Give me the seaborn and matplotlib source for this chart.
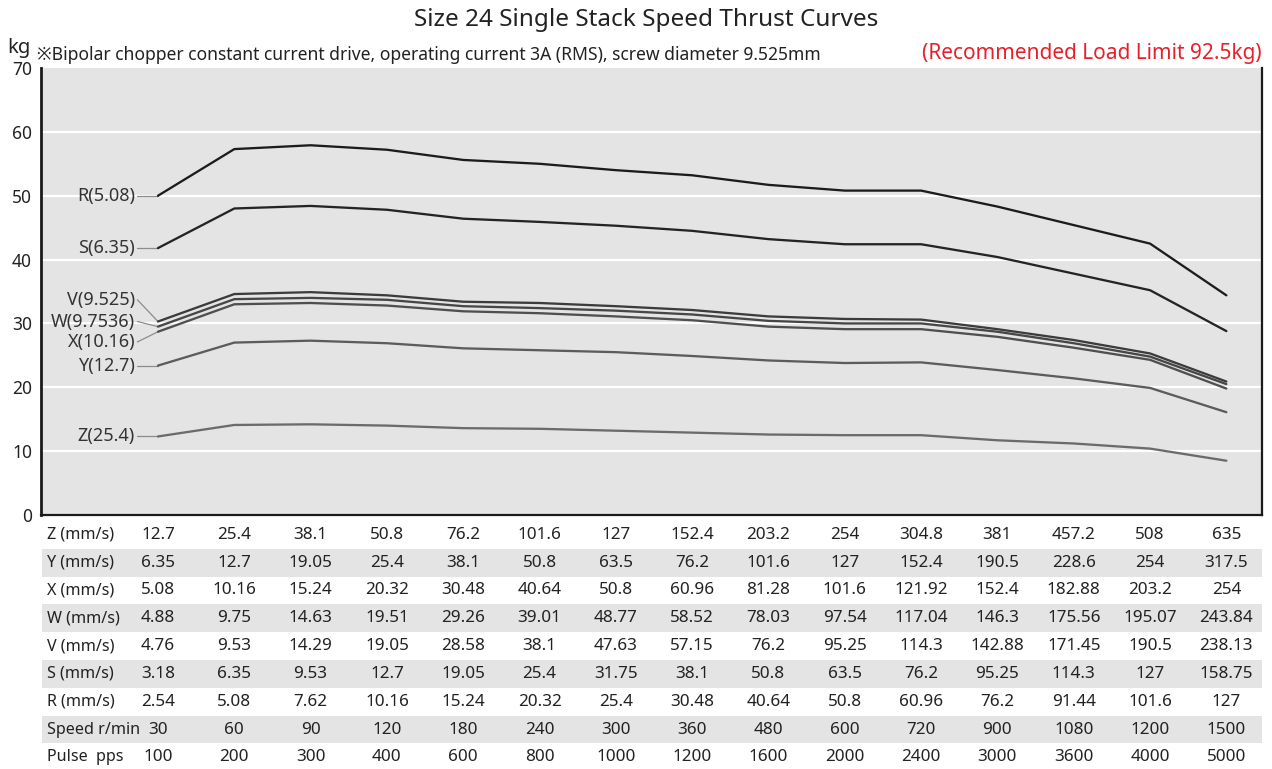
import matplotlib
matplotlib.use("Agg")
import matplotlib.pyplot as plt
import seaborn as sns
import pandas as pd
from matplotlib.patches import Rectangle

# Thrust (kg) at each speed step, one list per screw lead
thrust_R = [50.0, 57.3, 57.9, 57.2, 55.6, 55.0, 54.0, 53.2, 51.7, 50.8, 50.8, 48.3, 45.4, 42.5, 34.4]
thrust_S = [41.8, 48.0, 48.4, 47.8, 46.4, 45.9, 45.3, 44.5, 43.2, 42.4, 42.4, 40.4, 37.8, 35.2, 28.8]
thrust_V = [30.3, 34.6, 34.9, 34.4, 33.4, 33.2, 32.7, 32.1, 31.1, 30.7, 30.6, 29.1, 27.4, 25.3, 20.9]
thrust_W = [29.5, 33.8, 34.0, 33.7, 32.7, 32.4, 32.0, 31.4, 30.4, 30.0, 30.0, 28.7, 26.9, 24.8, 20.5]
thrust_X = [28.7, 33.0, 33.2, 32.8, 31.9, 31.6, 31.1, 30.5, 29.5, 29.1, 29.1, 27.9, 26.2, 24.3, 19.8]
thrust_Y = [23.4, 27.0, 27.3, 26.9, 26.1, 25.8, 25.5, 24.9, 24.2, 23.8, 23.9, 22.7, 21.4, 19.9, 16.1]
thrust_Z = [12.3, 14.1, 14.2, 14.0, 13.6, 13.5, 13.2, 12.9, 12.6, 12.5, 12.5, 11.7, 11.2, 10.4, 8.5]

series_names = ["R(5.08)", "S(6.35)", "V(9.525)", "W(9.7536)", "X(10.16)", "Y(12.7)", "Z(25.4)"]
series_values = [thrust_R, thrust_S, thrust_V, thrust_W, thrust_X, thrust_Y, thrust_Z]

# Speed table rows under the chart
row_labels = ["Z (mm/s)", "Y (mm/s)", "X (mm/s)", "W (mm/s)", "V (mm/s)",
              "S (mm/s)", "R (mm/s)", "Speed r/min", "Pulse  pps"]
speed_Z = ["12.7", "25.4", "38.1", "50.8", "76.2", "101.6", "127", "152.4", "203.2", "254", "304.8", "381", "457.2", "508", "635"]
speed_Y = ["6.35", "12.7", "19.05", "25.4", "38.1", "50.8", "63.5", "76.2", "101.6", "127", "152.4", "190.5", "228.6", "254", "317.5"]
speed_X = ["5.08", "10.16", "15.24", "20.32", "30.48", "40.64", "50.8", "60.96", "81.28", "101.6", "121.92", "152.4", "182.88", "203.2", "254"]
speed_W = ["4.88", "9.75", "14.63", "19.51", "29.26", "39.01", "48.77", "58.52", "78.03", "97.54", "117.04", "146.3", "175.56", "195.07", "243.84"]
speed_V = ["4.76", "9.53", "14.29", "19.05", "28.58", "38.1", "47.63", "57.15", "76.2", "95.25", "114.3", "142.88", "171.45", "190.5", "238.13"]
speed_S = ["3.18", "6.35", "9.53", "12.7", "19.05", "25.4", "31.75", "38.1", "50.8", "63.5", "76.2", "95.25", "114.3", "127", "158.75"]
speed_R = ["2.54", "5.08", "7.62", "10.16", "15.24", "20.32", "25.4", "30.48", "40.64", "50.8", "60.96", "76.2", "91.44", "101.6", "127"]
speed_rpm = ["30", "60", "90", "120", "180", "240", "300", "360", "480", "600", "720", "900", "1080", "1200", "1500"]
pulse_pps = ["100", "200", "300", "400", "600", "800", "1000", "1200", "1600", "2000", "2400", "3000", "3600", "4000", "5000"]
table_rows = [speed_Z, speed_Y, speed_X, speed_W, speed_V, speed_S, speed_R, speed_rpm, pulse_pps]

y_ticks = [0, 10, 20, 30, 40, 50, 60, 70]

colors = {
    "R(5.08)": "#1c1c1c", "S(6.35)": "#242424",
    "V(9.525)": "#3c3c3c", "W(9.7536)": "#464646", "X(10.16)": "#4f4f4f",
    "Y(12.7)": "#5c5c5c", "Z(25.4)": "#6b6b6b",
}

sns.set_theme(style="white")
plt.rcParams["font.family"] = ["Noto Sans", "Noto Sans CJK SC", "DejaVu Sans"]

n = len(speed_Z)
frames = []
for name, vals in zip(series_names, series_values):
    frames.append(pd.DataFrame({"step": range(n), "thrust": vals, "series": name}))
df = pd.concat(frames, ignore_index=True)

W_PX, H_PX = 1272, 769
fig = plt.figure(figsize=(W_PX / 100, H_PX / 100), dpi=100)
ax_left, ax_right, ax_top, ax_bottom = 41, 1262, 68, 515
ax = fig.add_axes([ax_left / W_PX, 1 - ax_bottom / H_PX,
                   (ax_right - ax_left) / W_PX, (ax_bottom - ax_top) / H_PX])
ax.set_facecolor("#e3e4e3")

x_min, x_max = -1.533, 14.467
ax.set_xlim(x_min, x_max)
ax.set_ylim(0, 70)

for yv in y_ticks[1:-1]:
    ax.axhline(yv, color="white", lw=1.6, zorder=1)

sns.lineplot(data=df, x="step", y="thrust", hue="series", palette=colors,
             linewidth=1.65, legend=False, ax=ax, zorder=3)
for line in ax.lines:
    line.set_solid_joinstyle("round")
    line.set_solid_capstyle("round")

# Series labels with leader lines to the first point
label_pos = {
    "R(5.08)": 50.0, "S(6.35)": 41.8, "V(9.525)": 33.7, "W(9.7536)": 30.3,
    "X(10.16)": 27.1, "Y(12.7)": 23.4, "Z(25.4)": 12.3,
}
for name, vals in zip(series_names, series_values):
    ly = label_pos[name]
    ax.plot([-0.27, 0], [ly, vals[0]], color="#8c8c8c", lw=0.9, zorder=2)
    ax.text(-0.30, ly, name, ha="right", va="center", fontsize=13, color="#333333")

# Axes frame
ax.spines["top"].set_visible(False)
for side in ["left", "bottom", "right"]:
    ax.spines[side].set_color("#1a1a1a")
ax.spines["left"].set_linewidth(2.0)
ax.spines["bottom"].set_linewidth(1.6)
ax.spines["right"].set_linewidth(1.6)

ax.set_yticks(y_ticks)
ax.set_yticklabels([str(v) for v in y_ticks])
ax.tick_params(axis="y", length=0, pad=6.5, labelsize=12.5, labelcolor="#222222")
ax.set_xticks([k - 0.5 for k in range(n)])
ax.set_xticklabels([])
ax.tick_params(axis="x", direction="in", length=6, width=1.4, color="#1a1a1a")
ax.set_xlabel("")
ax.set_ylabel("")

# Titles
fig.text(646 / W_PX, 1 - 20 / H_PX, "Size 24 Single Stack Speed Thrust Curves",
         ha="center", va="center", fontsize=17.5, color="#222222")
fig.text(7 / W_PX, 1 - 48 / H_PX, "kg", ha="left", va="center", fontsize=14.5, color="#222222")
fig.text(37 / W_PX, 1 - 55 / H_PX,
         "※Bipolar chopper constant current drive, operating current 3A (RMS), screw diameter 9.525mm",
         ha="left", va="center", fontsize=12.6, color="#222222")
fig.text(1262 / W_PX, 1 - 54 / H_PX, "(Recommended Load Limit 92.5kg)",
         ha="right", va="center", fontsize=15, color="#e8202a")

# Speed table under the axes
trans = ax.get_xaxis_transform()
axes_h = ax_bottom - ax_top
row_top = 521
row_h = 27.8
for i, (lab, vals) in enumerate(zip(row_labels, table_rows)):
    y0 = row_top + i * row_h
    yc = (ax_bottom - (y0 + row_h / 2)) / axes_h
    if i % 2 == 1:
        yb = (ax_bottom - (y0 + row_h)) / axes_h
        ax.add_patch(Rectangle((x_min + 0.015, yb), x_max - x_min - 0.015, row_h / axes_h,
                               transform=trans, facecolor="#e3e4e3", edgecolor="none",
                               clip_on=False, zorder=0))
    ax.text(-1.46, yc, lab, transform=trans, ha="left", va="center",
            fontsize=11.6, color="#222222", clip_on=False)
    for k, v in enumerate(vals):
        ax.text(k, yc, v, transform=trans, ha="center", va="center",
                fontsize=12.3, color="#222222", clip_on=False)

fig.savefig("out.png", dpi=100, facecolor="white")
